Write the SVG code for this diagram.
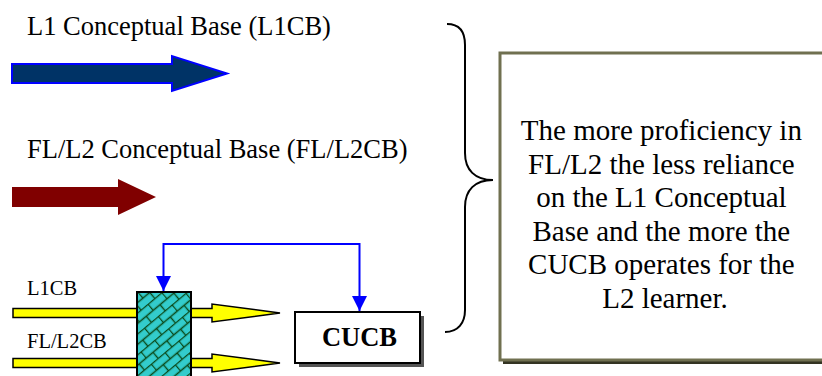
<svg xmlns="http://www.w3.org/2000/svg" width="822" height="376" viewBox="0 0 822 376">
<style>
text{font-family:"Liberation Serif",serif;fill:#000}
.yel{fill:#ffff00;stroke:#000;stroke-width:1.5;stroke-linejoin:miter}
.blue{fill:none;stroke:#0000ff;stroke-width:2}
</style>
<defs>
<marker id="ah" markerWidth="15" markerHeight="15" viewBox="0 0 15 15" refX="15" refY="7.5" orient="auto-start-reverse" markerUnits="userSpaceOnUse">
<path d="M0,0 L15,7.5 L0,15 Z" fill="#0000ff"/>
</marker>
<pattern id="brick" width="18" height="16" patternUnits="userSpaceOnUse" patternTransform="translate(137,292) rotate(-40)">
<rect width="18" height="16" fill="#33cccc"/>
<path d="M0,0.5 H18 M0,8.5 H18 M0.5,0 V8 M9.5,8 V16" stroke="#0a4a1a" stroke-width="1.4" fill="none"/>
</pattern>
</defs>

<g id="title-l1cb"><text x="27" y="35" font-family="Liberation Serif, serif" font-size="26.5">L1 Conceptual Base (L1CB)</text></g>
<g id="arrow-l1cb"><path d="M12,64 H172 V56 L227,73.5 L172,91 V83 H12 Z" fill="#003366" stroke="#0000ff" stroke-width="2"/></g>

<g id="title-fll2cb"><text x="27" y="158" font-family="Liberation Serif, serif" font-size="26.5">FL/L2 Conceptual Base (FL/L2CB)</text></g>
<g id="arrow-fll2cb"><path d="M12,187 H118 V179 L156,197 L118,215 V207 H12 Z" fill="#800000"/></g>

<g id="label-l1cb"><text x="27" y="295" font-family="Liberation Serif, serif" font-size="20.5">L1CB</text></g>
<g id="label-fll2cb"><text x="27" y="348" font-family="Liberation Serif, serif" font-size="20.5">FL/L2CB</text></g>

<g id="yellow-arrow-1"><path class="yel" d="M13,308.5 H212 V304 L280,313 L212,322 V317.5 H13 Z"/></g>
<g id="yellow-arrow-2"><path class="yel" d="M13,358.5 H212 V354 L280,363 L212,372 V367.5 H13 Z"/></g>

<g id="filter"><rect x="137" y="292" width="54" height="90" fill="url(#brick)" stroke="#000" stroke-width="2"/></g>

<g id="cucb">
<rect x="299" y="316" width="125" height="51" fill="#555"/>
<rect x="295" y="312" width="125" height="51" fill="#fff" stroke="#000" stroke-width="2"/>
<text x="359.5" y="346" font-family="Liberation Serif, serif" font-size="26.5" font-weight="bold" text-anchor="middle">CUCB</text>
</g>

<g id="brace"><path d="M447,24 C460,24 465,32 465,45 V153 C465,170 475,180 493,180 C475,180 465,190 465,207 V310 C465,323 458,332 445,332" fill="none" stroke="#000" stroke-width="2"/></g>

<g id="textbox">
<rect x="503" y="56" width="330" height="308" fill="#333322"/>
<rect x="500" y="53" width="330" height="307" fill="#fff" stroke="#707050" stroke-width="3"/>
<text font-family="Liberation Serif, serif" font-size="29" text-anchor="middle">
<tspan x="665" y="140">The more proficiency in</tspan>
<tspan x="665" y="173.5">FL/L2 the less reliance</tspan>
<tspan x="665" y="207">on the L1 Conceptual</tspan>
<tspan x="665" y="240.5">Base and the more the</tspan>
<tspan x="665" y="274">CUCB operates for the</tspan>
<tspan x="665" y="307.5">L2 learner.</tspan>
</text>
</g>

<g id="connectors">
<path class="blue" d="M163.5,291 V244 H359.5 V311" marker-start="url(#ah)" marker-end="url(#ah)"/>
</g>
</svg>
